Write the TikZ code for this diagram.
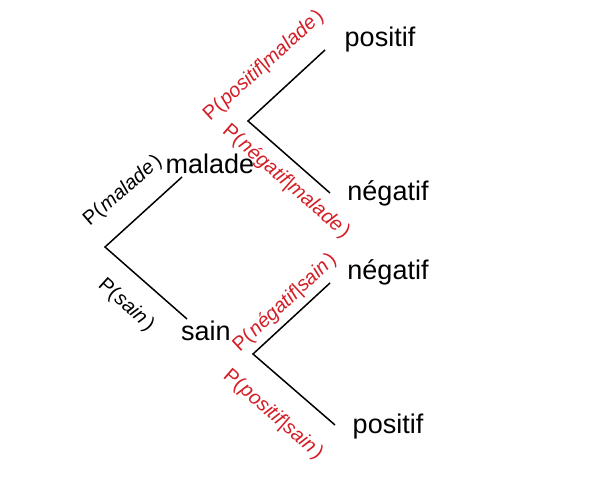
\documentclass[tikz,border=0pt]{standalone}
\usepackage{fontspec}
\setmainfont{Liberation Sans}
\usetikzlibrary{math}
\definecolor{myred}{RGB}{212,30,38}

\tikzset{
branch/.style={line width=1.5},
outcome/.style={font=\fontsize{27}{27}\selectfont, inner sep=0pt, anchor=base},
prob/.style={font=\fontsize{20}{20}\selectfont, inner sep=0pt},
cprob/.style={prob, text=myred},
}
\newcommand{\pr}[1]{P(\hspace{0.08em}\textit{#1}\hspace{0.14em})}

\begin{document}
\begin{tikzpicture}[x=1pt,y=-1pt]
\tikzmath{
\W=605; \H=495;
}
\useasboundingbox (0,0) rectangle (\W,\H);

% tree
\coordinate (root) at (105,247);
\coordinate (mal) at (182,177);
\coordinate (sa) at (187,319);
\coordinate (mfork) at (248,121);
\coordinate (mpos) at (325,50);
\coordinate (mneg) at (330,193);
\coordinate (sfork) at (253,354);
\coordinate (sneg) at (330,283);
\coordinate (spos) at (335,425);

\draw[branch] (mal) -- (root) -- (sa);
\draw[branch] (mpos) -- (mfork) -- (mneg);
\draw[branch] (sneg) -- (sfork) -- (spos);

% outcomes
\node[outcome] (malade) at (210,173) {malade};
\node[outcome] (sain) at (206,340) {sain};
\node[outcome] (posm) at (380,47) {positif};
\node[outcome] (negm) at (388,200) {négatif};
\node[outcome] (negs) at (388,279) {négatif};
\node[outcome] (poss) at (388,433) {positif};

% probabilities
\node[prob, rotate=41] (pmal) at (123,191) {\pr{malade}};
\node[prob, rotate=-42] (psain) at (126,305) {\pr{sain}};
\node[cprob, rotate=42] (pposm) at (264,66) {\pr{positif|malade}};
\node[cprob, rotate=-41] (pnegm) at (286,182) {\pr{négatif|malade}};
\node[cprob, rotate=43] (pnegs) at (285,303) {\pr{négatif|sain}};
\node[cprob, rotate=-41] (pposs) at (273,415) {\pr{positif|sain}};

\end{tikzpicture}
\end{document}
